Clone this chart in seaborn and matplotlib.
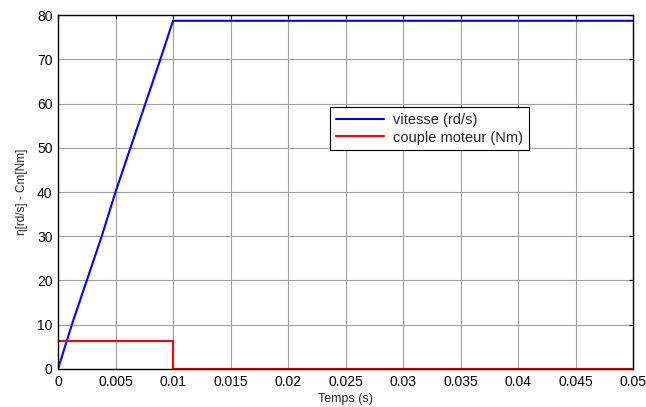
import matplotlib
matplotlib.use("Agg")
import matplotlib.pyplot as plt
import seaborn as sns
import pandas as pd

# vitesse (rd/s)
t_speed = [0, 0.0012, 0.0025, 0.0038, 0.005, 0.0063, 0.0076, 0.0089, 0.0100, 0.05]
speed = [0, 10, 20, 30, 40, 50, 60, 70, 78.7, 78.7]

# couple moteur (Nm)
t_torque = [0, 0.0100, 0.0100, 0.05]
torque = [6.4, 6.4, 0, 0]

x_ticks = [0, 0.005, 0.01, 0.015, 0.02, 0.025, 0.03, 0.035, 0.04, 0.045, 0.05]
x_labels = ["0", "0.005", "0.01", "0.015", "0.02", "0.025", "0.03", "0.035", "0.04", "0.045", "0.05"]
y_ticks = [0, 10, 20, 30, 40, 50, 60, 70, 80]

sns.set_style("white")
plt.rcParams["font.family"] = ["Liberation Sans", "DejaVu Sans"]
plt.rcParams["font.size"] = 8

df_speed = pd.DataFrame({"t": t_speed, "v": speed})
df_torque = pd.DataFrame({"t": t_torque, "v": torque})

fig = plt.figure(figsize=(6.46, 4.07), dpi=100)
ax = fig.add_axes([0.0898, 0.0934, 0.8902, 0.8697])

sns.lineplot(data=df_speed, x="t", y="v", ax=ax, color="#0000ff", lw=1.5,
             label="vitesse (rd/s)", sort=False, estimator=None)
sns.lineplot(data=df_torque, x="t", y="v", ax=ax, color="#ff0000", lw=1.5,
             label="couple moteur (Nm)", sort=False, estimator=None)

ax.set_xlim(0, 0.05)
ax.set_ylim(0, 80)
ax.set_xticks(x_ticks)
ax.set_xticklabels(x_labels)
ax.set_yticks(y_ticks)
ax.grid(True, color="#a0a0a0", lw=0.8)
ax.tick_params(direction="in", top=True, right=True, length=3, labelsize=10, colors="black", pad=4)
for s in ax.spines.values():
    s.set_color("black")
    s.set_linewidth(1.0)

ax.set_xlabel("Temps (s)", fontsize=9, labelpad=3)
ax.set_ylabel("η[rd/s] - Cm[Nm]", fontsize=8.5, labelpad=6)

leg = ax.legend(loc="upper left", bbox_to_anchor=(0.473, 0.74), borderaxespad=0,
                fontsize=10.5, fancybox=False, framealpha=1, edgecolor="black",
                borderpad=0.4, handlelength=3.3, handletextpad=0.6, labelspacing=0.25)
leg.get_frame().set_linewidth(0.8)

fig.savefig("out.png", dpi=100)
